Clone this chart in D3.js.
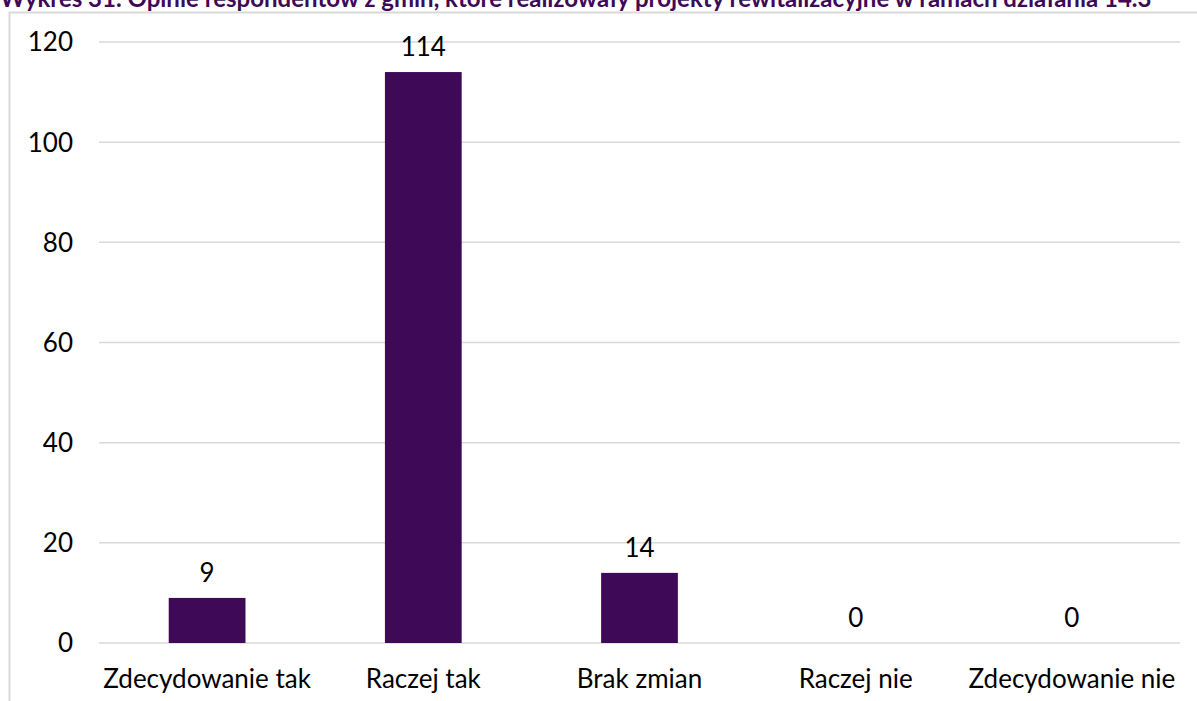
<!DOCTYPE html>
<html>
<head>
<meta charset="utf-8">
<script src="https://cdn.jsdelivr.net/npm/d3@7"></script>
<style>
  body { margin: 0; background: #fff; }
  text { font-family: Lato, "Open Sans", sans-serif; }
</style>
</head>
<body>
<div id="chart"></div>
<script>
var categories = ["Zdecydowanie tak", "Raczej tak", "Brak zmian", "Raczej nie", "Zdecydowanie nie"];
var values = [9, 114, 14, 0, 0];
var yTicks = [0, 20, 40, 60, 80, 100, 120];
var title = "Wykres 31. Opinie respondentów z gmin, które realizowały projekty rewitalizacyjne w ramach działania 14.3";

var W = 1197, H = 701;
var margin = {top: 42, right: 17, bottom: 58, left: 99};
var width = W - margin.left - margin.right;
var height = H - margin.top - margin.bottom;

var svg = d3.select("#chart").append("svg")
  .attr("width", W)
  .attr("height", H);

// chart frame
svg.append("rect")
  .attr("x", 9.5).attr("y", 12.5)
  .attr("width", W).attr("height", H)
  .attr("fill", "none")
  .attr("stroke", "#d9d9d9")
  .attr("stroke-width", 2);

// title, cut off at the top like in the source
svg.append("text")
  .attr("x", 0)
  .attr("y", 7)
  .attr("fill", "#3e0a57")
  .style("font-weight", "bold")
  .style("font-size", "24px")
  .text(title);

var g = svg.append("g")
  .attr("transform", "translate(" + margin.left + "," + margin.top + ")");

var x = d3.scaleBand()
  .domain(categories)
  .range([0, width])
  .paddingInner(0.645)
  .paddingOuter(0.3225);

var y = d3.scaleLinear()
  .domain([0, 120])
  .range([height, 0]);

g.selectAll(".grid")
  .data(yTicks)
  .enter().append("line")
  .attr("x1", 0).attr("x2", width)
  .attr("y1", function(d) { return y(d); })
  .attr("y2", function(d) { return y(d); })
  .attr("stroke", "#d9d9d9")
  .attr("stroke-width", 1.5);

g.selectAll(".ylab")
  .data(yTicks)
  .enter().append("text")
  .attr("x", -26)
  .attr("y", function(d) { return y(d); })
  .attr("dy", "0.36em")
  .attr("text-anchor", "end")
  .style("font-size", "26px")
  .attr("fill", "#000")
  .text(function(d) { return d; });

g.selectAll(".bar")
  .data(values)
  .enter().append("rect")
  .attr("x", function(d, i) { return x(categories[i]); })
  .attr("width", x.bandwidth())
  .attr("y", function(d) { return y(d); })
  .attr("height", function(d) { return height - y(d); })
  .attr("fill", "#3e0a57");

g.selectAll(".val")
  .data(values)
  .enter().append("text")
  .attr("x", function(d, i) { return x(categories[i]) + x.bandwidth() / 2; })
  .attr("y", function(d) { return y(d) - 16; })
  .attr("text-anchor", "middle")
  .style("font-size", "26px")
  .attr("fill", "#000")
  .text(function(d) { return d; });

g.selectAll(".xlab")
  .data(categories)
  .enter().append("text")
  .attr("x", function(d) { return x(d) + x.bandwidth() / 2; })
  .attr("y", height + 45)
  .attr("text-anchor", "middle")
  .style("font-size", "26px")
  .attr("fill", "#000")
  .text(function(d) { return d; });
</script>
</body>
</html>
